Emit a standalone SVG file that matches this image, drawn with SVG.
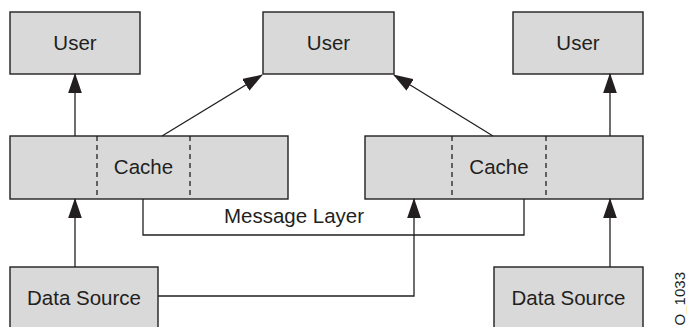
<svg xmlns="http://www.w3.org/2000/svg" width="687" height="327" viewBox="0 0 687 327">
<style>
.box{fill:#d9d9d9;stroke:#231f20;stroke-width:1.4}
.dash{stroke:#231f20;stroke-width:1.3;stroke-dasharray:5,4;fill:none}
.ln{stroke:#231f20;stroke-width:1.3;fill:none}
.arr{marker-end:url(#ah)}
text{font-family:"Liberation Sans",Arial,sans-serif;font-size:20.5px;fill:#231f20;text-anchor:middle}
</style>
<defs>
<marker id="ah" markerUnits="userSpaceOnUse" markerWidth="20" markerHeight="14" viewBox="0 0 19 13" refX="18" refY="6.5" orient="auto">
<path d="M0,0 L19,6.5 L0,13 Z" fill="#231f20"/>
</marker>
</defs>
<rect width="687" height="327" fill="#fff"/>
<g id="user1"><rect class="box" x="10" y="12" width="130" height="62"/><text x="75" y="50">User</text></g>
<g id="user2"><rect class="box" x="263" y="12" width="131" height="62"/><text x="328.5" y="50">User</text></g>
<g id="user3"><rect class="box" x="513" y="12" width="130" height="62"/><text x="578" y="50">User</text></g>
<g id="cache1"><rect class="box" x="10" y="136" width="278" height="63"/><line class="dash" x1="97" y1="136" x2="97" y2="199"/><line class="dash" x1="190" y1="136" x2="190" y2="199"/><text x="143.5" y="174">Cache</text></g>
<g id="cache2"><rect class="box" x="365" y="136" width="278" height="63"/><line class="dash" x1="452" y1="136" x2="452" y2="199"/><line class="dash" x1="546" y1="136" x2="546" y2="199"/><text x="499" y="174">Cache</text></g>
<g id="messagelayer"><path class="ln" d="M143,199 V235 H524 V199"/><text x="294" y="223">Message Layer</text></g>
<g id="ds1"><rect class="box" x="10" y="267" width="148" height="70"/><text x="84" y="305">Data Source</text></g>
<g id="ds2"><rect class="box" x="494" y="267" width="149" height="70"/><text x="568.5" y="305">Data Source</text></g>
<g id="connectors">
<line class="ln arr" x1="75" y1="136" x2="75" y2="74"/>
<line class="ln arr" x1="162" y1="136" x2="262" y2="75"/>
<line class="ln arr" x1="493" y1="136" x2="394" y2="75"/>
<line class="ln arr" x1="610" y1="136" x2="610" y2="74"/>
<line class="ln arr" x1="75" y1="267" x2="75" y2="199"/>
<path class="ln arr" d="M158,296 H414 V199"/>
<line class="ln arr" x1="610" y1="267" x2="610" y2="199"/>
</g>
<text transform="translate(685,272) rotate(-90)" style="font-size:15px;text-anchor:end">O_1033</text>
</svg>
